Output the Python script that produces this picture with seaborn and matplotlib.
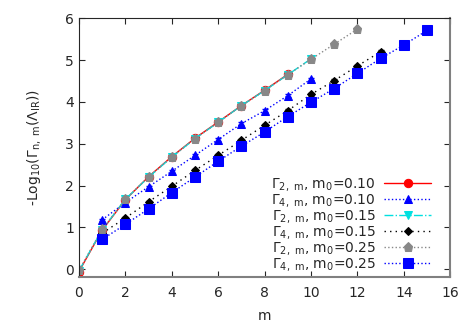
import numpy as np
import pandas as pd
import seaborn as sns
import matplotlib.pyplot as plt

sns.set_style('ticks')
plt.rcParams['font.family'] = ['DejaVu Sans']
plt.rcParams['mathtext.fontset'] = 'dejavusans'

# -Log10(Gamma) values
m_g2_010 = [0, 1, 2, 3, 4, 5, 6, 7, 8, 9]
g2_010 = [-0.06, 0.93, 1.66, 2.21, 2.69, 3.13, 3.52, 3.91, 4.28, 4.66]
m_g4_010 = [1, 2, 3, 4, 5, 6, 7, 8, 9, 10]
g4_010 = [1.18, 1.59, 1.97, 2.34, 2.72, 3.10, 3.48, 3.79, 4.15, 4.55]
m_g2_015 = [0, 1, 2, 3, 4, 5, 6, 7, 8, 9, 10]
g2_015 = [-0.04, 0.94, 1.67, 2.20, 2.68, 3.12, 3.51, 3.91, 4.27, 4.65, 5.03]
m_g4_015 = [1, 2, 3, 4, 5, 6, 7, 8, 9, 10, 11, 12, 13]
g4_015 = [0.86, 1.22, 1.61, 1.98, 2.36, 2.72, 3.08, 3.44, 3.79, 4.18, 4.51, 4.86, 5.20]
m_g2_025 = [0, 1, 2, 3, 4, 5, 6, 7, 8, 9, 10, 11, 12]
g2_025 = [-0.03, 0.95, 1.67, 2.20, 2.68, 3.12, 3.51, 3.91, 4.27, 4.65, 5.02, 5.38, 5.74]
m_g4_025 = [1, 2, 3, 4, 5, 6, 7, 8, 9, 10, 11, 12, 13, 14, 15]
g4_025 = [0.71, 1.07, 1.44, 1.83, 2.20, 2.58, 2.94, 3.28, 3.65, 3.99, 4.32, 4.68, 5.04, 5.36, 5.71]

series = [
    (r'$\Gamma_{2,\ \mathrm{m}}$, m$_0$=0.10', m_g2_010, g2_010, '#ff0000', 'o', '-', 6),
    (r'$\Gamma_{4,\ \mathrm{m}}$, m$_0$=0.10', m_g4_010, g4_010, '#0000ff', '^', ':', 6),
    (r'$\Gamma_{2,\ \mathrm{m}}$, m$_0$=0.15', m_g2_015, g2_015, '#00e0e0', 'v', '-.', 6),
    (r'$\Gamma_{4,\ \mathrm{m}}$, m$_0$=0.15', m_g4_015, g4_015, '#000000', 'D', (0, (1, 3)), 4.5),
    (r'$\Gamma_{2,\ \mathrm{m}}$, m$_0$=0.25', m_g2_025, g2_025, '#888888', 'p', ':', 6.5),
    (r'$\Gamma_{4,\ \mathrm{m}}$, m$_0$=0.25', m_g4_025, g4_025, '#0000ff', 's', ':', 6.5),
]

fig, ax = plt.subplots(figsize=(4.67, 3.27), dpi=100)
fig.subplots_adjust(left=0.169, right=0.964, bottom=0.154, top=0.944)

for label, mm, vals, col, mk, ls, ms in series:
    df = pd.DataFrame({'m': mm, 'v': vals})
    ax.errorbar(df['m'], df['v'], yerr=0.03, fmt='none', ecolor=col, elinewidth=0.8,
                capsize=2.5)
    sns.lineplot(data=df, x='m', y='v', ax=ax, color=col, marker=mk, markersize=ms,
                 linestyle=ls, linewidth=1.0, markeredgecolor=col, label=label)

ax.set_xlim(0, 16)
ax.set_ylim(-0.18, 6)
ax.set_xticks(np.arange(0, 17, 2))
ax.set_yticks(np.arange(0, 7, 1))
ax.tick_params(direction='in', top=True, right=True, labelsize=10, length=4)
ax.tick_params(axis='x', pad=7)
ax.set_xlabel('m', fontsize=10, labelpad=6)
ax.set_ylabel(r'-Log$_{10}$($\Gamma_{\mathrm{n,\ m}}$($\Lambda_{\mathrm{IR}}$))', fontsize=10,
              labelpad=16)
for side in ['bottom', 'right']:
    ax.spines[side].set_color('#808080')
    ax.spines[side].set_linewidth(1.5)

ax.legend(loc='lower right', bbox_to_anchor=(0.957, 0.004), frameon=False, markerfirst=False,
          fontsize=10, handlelength=3.4, labelspacing=-0.08, borderaxespad=0.0,
          borderpad=0.2, handletextpad=0.6)

plt.savefig('out.png', dpi=100)
